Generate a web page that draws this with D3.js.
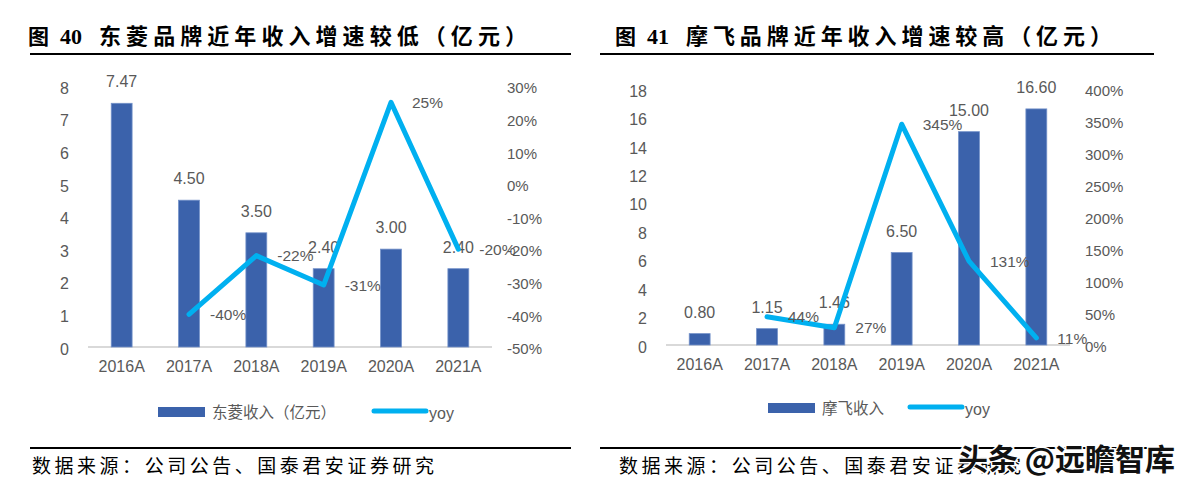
<!DOCTYPE html>
<html>
<head>
<meta charset="utf-8">
<script src="https://cdn.jsdelivr.net/npm/d3@7"></script>
<style>
  body { margin: 0; background: #fff; }
  svg { display: block; }
  .tick text { font-family: "Liberation Sans", Arial, sans-serif; fill: #595959; }
</style>
</head>
<body>
<svg id="chart" width="1188" height="487"></svg>
<script>
const years = ["2016A", "2017A", "2018A", "2019A", "2020A", "2021A"];

// 东菱
const dlRevenue = [7.47, 4.5, 3.5, 2.4, 3.0, 2.4];
const dlYoy = [null, -40, -22, -31, 25, -20];
const dlTicksL = [0, 1, 2, 3, 4, 5, 6, 7, 8];
const dlTicksR = [-50, -40, -30, -20, -10, 0, 10, 20, 30];

// 摩飞
const mfRevenue = [0.8, 1.15, 1.46, 6.5, 15.0, 16.6];
const mfYoy = [null, 44, 27, 345, 131, 11];
const mfTicksL = [0, 2, 4, 6, 8, 10, 12, 14, 16, 18];
const mfTicksR = [0, 50, 100, 150, 200, 250, 300, 350, 400];

const svg = d3.select("#chart");
const barColor = "#3B62AB";
const lineColor = "#00B0F0";
const cjk = "'Noto Sans CJK SC', sans-serif";

function drawPanel(p) {
  const g = svg.append("g");

  // title
  g.append("text")
    .attr("x", p.titleX)
    .attr("y", 44)
    .attr("font-family", cjk)
    .attr("font-weight", "bold")
    .attr("font-size", 21)
    .text("图");
  g.append("text")
    .attr("x", p.titleX + 32)
    .attr("y", 44)
    .attr("font-family", "'Liberation Serif', serif")
    .attr("font-weight", "bold")
    .attr("font-size", 22)
    .text(p.num);
  g.append("text")
    .attr("x", p.titleX + 71)
    .attr("y", 44)
    .attr("font-family", cjk)
    .attr("font-weight", "bold")
    .attr("font-size", 22)
    .attr("textLength", p.titleLen)
    .attr("lengthAdjust", "spacing")
    .text(p.title);

  g.append("line")
    .attr("x1", p.lineX1).attr("x2", p.lineX2)
    .attr("y1", 54).attr("y2", 54)
    .attr("stroke", "#000").attr("stroke-width", 2);

  g.append("line")
    .attr("x1", p.lineX1).attr("x2", p.lineX2)
    .attr("y1", 448).attr("y2", 448)
    .attr("stroke", "#000").attr("stroke-width", 2);

  g.append("text")
    .attr("x", p.srcX)
    .attr("y", 473)
    .attr("font-family", cjk)
    .attr("font-size", 19)
    .attr("textLength", 402)
    .attr("lengthAdjust", "spacing")
    .text("数据来源：公司公告、国泰君安证券研究");

  // scales
  const x = d3.scaleBand()
    .domain(years)
    .range([p.x0, p.x1])
    .paddingInner(0.69)
    .paddingOuter(0.345);
  const yL = d3.scaleLinear().domain(p.domL).range([p.y0, p.yTop]);
  const yR = d3.scaleLinear().domain(p.domR).range([p.y0, p.yTop]);

  // axes
  const axL = g.append("g")
    .attr("transform", "translate(" + p.x0 + ",0)")
    .call(d3.axisLeft(yL).tickValues(p.ticksL).tickSize(0).tickPadding(19).tickFormat(d3.format("d")));
  const axR = g.append("g")
    .attr("transform", "translate(" + p.x1 + ",0)")
    .call(d3.axisRight(yR).tickValues(p.ticksR).tickSize(0).tickPadding(15).tickFormat((d) => d + "%"));
  const axB = g.append("g")
    .attr("transform", "translate(0," + p.y0 + ")")
    .call(d3.axisBottom(x).tickSize(0).tickPadding(14));
  [axL, axR, axB].forEach((a) => {
    a.select(".domain").remove();
    a.selectAll("text").attr("font-size", 16).attr("fill", "#595959");
  });
  axR.selectAll("text").attr("font-size", 15);
  axL.selectAll("text").attr("dy", "0.45em");
  axR.selectAll("text").attr("dy", "0.45em");

  g.append("line")
    .attr("x1", p.x0).attr("x2", p.x1)
    .attr("y1", p.y0).attr("y2", p.y0)
    .attr("stroke", "#D9D9D9").attr("stroke-width", 2);

  // bars
  g.selectAll(".bar")
    .data(p.revenue)
    .join("rect")
    .attr("class", "bar")
    .attr("x", (d, i) => x(years[i]))
    .attr("width", x.bandwidth())
    .attr("y", (d) => yL(d))
    .attr("height", (d) => p.y0 - yL(d))
    .attr("fill", barColor)
    .attr("stroke", "#7391C9")
    .attr("stroke-width", 0.8);

  g.selectAll(".barlabel")
    .data(p.revenue)
    .join("text")
    .attr("class", "barlabel")
    .attr("x", (d, i) => x(years[i]) + x.bandwidth() / 2)
    .attr("y", (d) => yL(d) - 16)
    .attr("text-anchor", "middle")
    .attr("font-family", "'Liberation Sans', Arial, sans-serif")
    .attr("font-size", 16)
    .attr("fill", "#595959")
    .text((d) => d.toFixed(2));

  // yoy line
  const pts = p.yoy
    .map((v, i) => ({ v: v, cx: x(years[i]) + x.bandwidth() / 2 }))
    .filter((d) => d.v !== null);

  g.append("path")
    .datum(pts)
    .attr("d", d3.line().x((d) => d.cx).y((d) => yR(d.v)))
    .attr("fill", "none")
    .attr("stroke", lineColor)
    .attr("stroke-width", 5)
    .attr("stroke-linecap", "round")
    .attr("stroke-linejoin", "round");

  g.selectAll(".yoylabel")
    .data(pts)
    .join("text")
    .attr("class", "yoylabel")
    .attr("x", (d) => d.cx + 21)
    .attr("y", (d) => yR(d.v))
    .attr("dy", "0.36em")
    .attr("font-family", "'Liberation Sans', Arial, sans-serif")
    .attr("font-size", 15.5)
    .attr("fill", "#595959")
    .text((d) => d.v + "%");

  // legend
  const lg = g.append("g").attr("transform", "translate(0," + p.legY + ")");
  lg.append("rect")
    .attr("x", p.legX).attr("y", -5)
    .attr("width", 47).attr("height", 10)
    .attr("fill", barColor);
  lg.append("text")
    .attr("x", p.legX + 54).attr("y", 0).attr("dy", "0.36em")
    .attr("font-family", cjk).attr("font-size", 15.5).attr("fill", "#595959")
    .text(p.legName);
  lg.append("line")
    .attr("x1", p.legX2).attr("x2", p.legX2 + 52)
    .attr("y1", -1).attr("y2", -1)
    .attr("stroke", lineColor).attr("stroke-width", 5).attr("stroke-linecap", "round");
  lg.append("text")
    .attr("x", p.legX2 + 55).attr("y", 1).attr("dy", "0.36em")
    .attr("font-family", "'Liberation Sans', Arial, sans-serif").attr("font-size", 16).attr("fill", "#595959")
    .text("yoy");
}

drawPanel({
  num: "40",
  title: "东菱品牌近年收入增速较低（亿元）",
  titleX: 28, titleLen: 428,
  lineX1: 30, lineX2: 571, srcX: 32,
  x0: 88, x1: 492, y0: 347, yTop: 86,
  domL: [0, 8], domR: [-50, 30],
  ticksL: dlTicksL, ticksR: dlTicksR,
  revenue: dlRevenue, yoy: dlYoy,
  legY: 412, legX: 158, legX2: 374,
  legName: "东菱收入（亿元）"
});

drawPanel({
  num: "41",
  title: "摩飞品牌近年收入增速较高（亿元）",
  titleX: 615, titleLen: 426,
  lineX1: 600, lineX2: 1154, srcX: 619,
  x0: 666, x1: 1070, y0: 345, yTop: 89,
  domL: [0, 18], domR: [0, 400],
  ticksL: mfTicksL, ticksR: mfTicksR,
  revenue: mfRevenue, yoy: mfYoy,
  legY: 408, legX: 768, legX2: 910,
  legName: "摩飞收入"
});

// watermark
svg.append("text")
  .attr("x", 958)
  .attr("y", 470)
  .attr("font-family", cjk)
  .attr("font-size", 30)
  .attr("font-weight", "bold")
  .attr("fill", "#111")
  .attr("stroke", "#fff")
  .attr("stroke-width", 3)
  .attr("paint-order", "stroke")
  .text("头条 @远瞻智库");
</script>
</body>
</html>
